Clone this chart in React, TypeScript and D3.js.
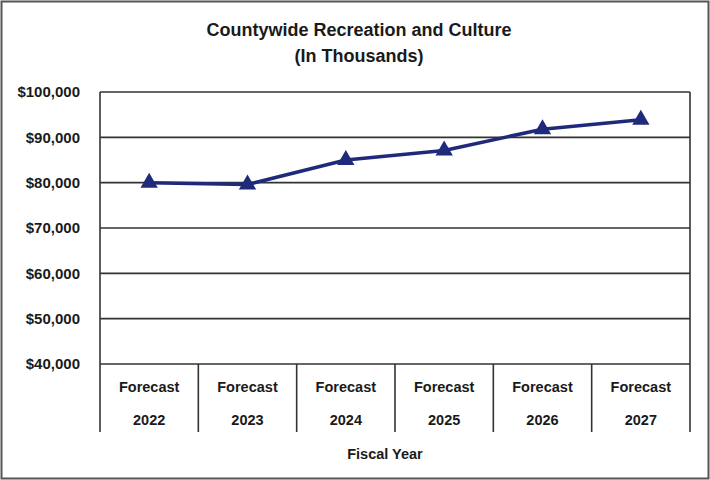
import React from "react";
import * as d3 from "d3";

const categories = ["2022", "2023", "2024", "2025", "2026", "2027"];
const categoryPrefix = "Forecast";
const values = [80000, 79600, 85000, 87100, 91800, 93900];
const yTicks = [40000, 50000, 60000, 70000, 80000, 90000, 100000];
const titleLines = ["Countywide Recreation and Culture", "(In Thousands)"];
const xTitle = "Fiscal Year";

export default function App() {
  const W = 710, H = 480;
  const left = 100, right = 690, top = 92, bottom = 364;
  const x = d3.scaleBand().domain(categories).range([left, right]).padding(0);
  const y = d3.scaleLinear().domain([40000, 100000]).range([bottom, top]);
  const cx = (c: string) => (x(c) as number) + x.bandwidth() / 2;
  const line = d3.line<number>().x((_, i) => cx(categories[i])).y((v) => y(v));
  const tri = d3.symbol().type(d3.symbolTriangle).size(130)();
  const fmt = (v: number) => "$" + d3.format(",")(v);
  const font = "'Liberation Sans', Arial, sans-serif";
  const ink = "#1a1a1a";
  const navy = "#1f2a7a";
  const bounds = [...categories.map((c) => x(c) as number), right];
  return (
    <svg width={W} height={H} style={{ position: "absolute", left: 0, top: 0 }} fontFamily={font}>
      <rect x={0} y={0} width={W} height={H} fill="#fff" />
      <rect x={1.5} y={1.5} width={W - 3} height={H - 3} fill="none" stroke="#555" strokeWidth={2} />
      {titleLines.map((t, i) => (
        <text key={t} x={359} y={36 + i * 26} textAnchor="middle" fontSize={18} fontWeight="bold" fill={ink}>
          {t}
        </text>
      ))}
      {yTicks.map((t) => (
        <g key={t}>
          <line x1={left} x2={right} y1={y(t)} y2={y(t)} stroke="#333" strokeWidth={1.6} />
          <text x={80} y={y(t)} dy="0.35em" textAnchor="end" fontSize={15} fontWeight="bold" fill={ink}>
            {fmt(t)}
          </text>
        </g>
      ))}
      <line x1={left} x2={left} y1={top} y2={bottom} stroke="#333" strokeWidth={1.6} />
      <line x1={right} x2={right} y1={top} y2={bottom} stroke="#333" strokeWidth={1.6} />
      {bounds.map((b, i) => (
        <line key={i} x1={b} x2={b} y1={bottom} y2={432} stroke="#333" strokeWidth={1.6} />
      ))}
      {categories.map((c) => (
        <g key={c}>
          <text x={cx(c)} y={387} dy="0.35em" textAnchor="middle" fontSize={14.5} fontWeight="bold" fill={ink}>
            {categoryPrefix}
          </text>
          <text x={cx(c)} y={420} dy="0.35em" textAnchor="middle" fontSize={14.5} fontWeight="bold" fill={ink}>
            {c}
          </text>
        </g>
      ))}
      <text x={385} y={454} dy="0.35em" textAnchor="middle" fontSize={14.5} fontWeight="bold" fill={ink}>
        {xTitle}
      </text>
      <path d={line(values) as string} fill="none" stroke={navy} strokeWidth={3.5} strokeLinejoin="round" />
      {values.map((v, i) => (
        <path key={i} d={tri as string} transform={`translate(${cx(categories[i])},${y(v)})`} fill={navy} />
      ))}
    </svg>
  );
}
